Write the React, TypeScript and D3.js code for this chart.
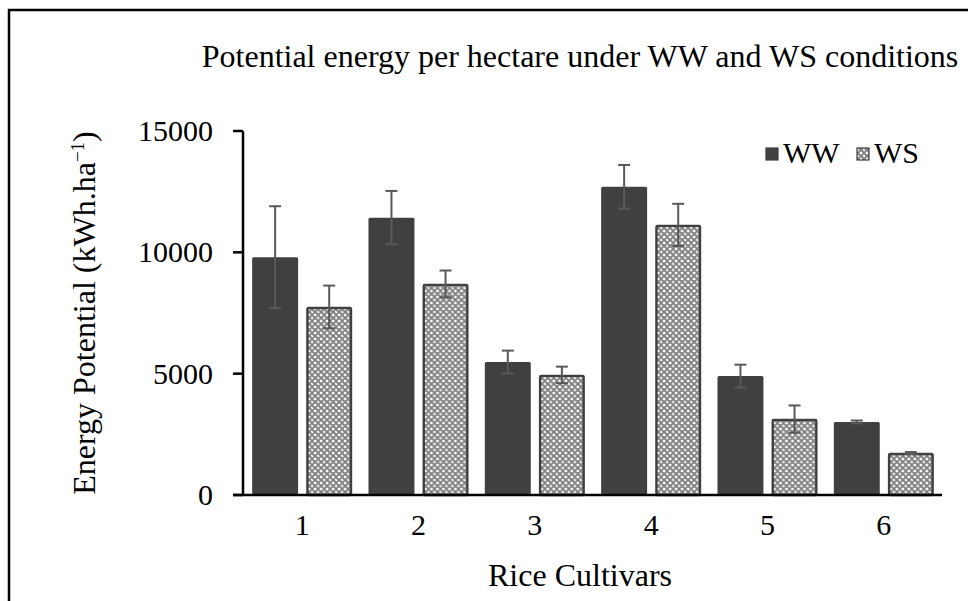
import React from 'react';
import * as d3 from 'd3';

const cultivars = ['1', '2', '3', '4', '5', '6'];
const seriesNames = ['WW', 'WS'];
const wwValues = [9800, 11430, 5480, 12700, 4900, 3010];
const wwErrors = [2100, 1100, 470, 900, 470, 60];
const wsValues = [7750, 8700, 4950, 11130, 3130, 1730];
const wsErrors = [880, 550, 340, 870, 560, 40];
const yTicks = [0, 5000, 10000, 15000];

const App = () => {
  const Width = 968;
  const Height = 601;
  const font = "'Liberation Serif', 'Times New Roman', serif";

  const x0 = d3.scaleBand().domain(cultivars).range([244, 942]).paddingInner(0.14).paddingOuter(0.07);
  const x1 = d3.scaleBand().domain(seriesNames).range([0, x0.bandwidth()]).paddingInner(0.15);
  const yScale = d3.scaleLinear().domain([0, 15000]).range([495, 131]);

  const rows = cultivars.map((c, i) => ({
    name: c,
    values: [
      { key: 'WW', v: wwValues[i], e: wwErrors[i] },
      { key: 'WS', v: wsValues[i], e: wsErrors[i] },
    ],
  }));

  const bars = rows.map((d) => (
    <g key={d.name} transform={`translate(${x0(d.name)},0)`}>
      {d.values.map((s) => {
        const bx = x1(s.key) as number;
        const bw = x1.bandwidth();
        const top = yScale(s.v);
        const cx = bx + bw / 2;
        return (
          <g key={s.key}>
            {s.key === 'WW' ? (
              <rect x={bx} y={top} width={bw} height={yScale(0) - top} fill="#404040" rx={1.5} />
            ) : (
              <rect x={bx + 1.2} y={top + 1} width={bw - 2.4} height={yScale(0) - top - 1} fill="url(#wsPattern)" stroke="#404040" strokeWidth={2.4} rx={1} />
            )}
            <line x1={cx} x2={cx} y1={yScale(s.v + s.e)} y2={yScale(s.v - s.e)} stroke="#595959" strokeWidth={2} />
            <line x1={cx - 6} x2={cx + 6} y1={yScale(s.v + s.e)} y2={yScale(s.v + s.e)} stroke="#595959" strokeWidth={2} />
            <line x1={cx - 6} x2={cx + 6} y1={yScale(s.v - s.e)} y2={yScale(s.v - s.e)} stroke="#595959" strokeWidth={2} />
          </g>
        );
      })}
    </g>
  ));

  const legend = [
    { label: 'WW', x: 766, fill: '#404040' },
    { label: 'WS', x: 857, fill: 'url(#wsPattern)' },
  ].map((d) => (
    <g key={d.label}>
      <rect x={d.x} y={148} width={12} height={12} fill={d.fill} stroke="#404040" strokeWidth={1.2} />
      <text x={d.x + 17} y={163} style={{ fontSize: '30px', fontFamily: font }}>{d.label}</text>
    </g>
  ));

  return (
    <svg width={Width} height={Height} style={{ position: 'absolute', left: 0, top: 0, background: '#fff' }}>
      <defs>
        <pattern id="wsPattern" width={6} height={6} patternUnits="userSpaceOnUse">
          <rect width={6} height={6} fill="#c4c4c4" />
          <path d="M0,3 L3,0 L6,3 L3,6 Z" fill="none" stroke="#7a7a7a" strokeWidth={1.3} />
          <rect x={2} y={2} width={2} height={2} fill="#ffffff" />
          <rect x={0} y={0} width={1} height={1} fill="#ffffff" />
          <rect x={5} y={5} width={1} height={1} fill="#ffffff" />
        </pattern>
      </defs>
      <rect x={9} y={10} width={980} height={620} fill="none" stroke="#000" strokeWidth={2.5} />

      <text x={580} y={67} textAnchor="middle" style={{ fontSize: '32px', fontFamily: font }}>
        Potential energy per hectare under WW and WS conditions
      </text>

      {yTicks.map((t) => (
        <g key={t}>
          <line x1={233} x2={243} y1={yScale(t)} y2={yScale(t)} stroke="#000" strokeWidth={2.5} />
          <text x={213} y={yScale(t) + 10} textAnchor="end" style={{ fontSize: '30px', fontFamily: font }}>{t}</text>
        </g>
      ))}

      <g>{bars}</g>

      <line x1={243} x2={243} y1={131} y2={496} stroke="#000" strokeWidth={2.5} />
      <line x1={233} x2={942} y1={495} y2={495} stroke="#000" strokeWidth={2.5} />

      {cultivars.map((c) => (
        <text key={c} x={(x0(c) as number) + x0.bandwidth() / 2} y={535} textAnchor="middle" style={{ fontSize: '30px', fontFamily: font }}>{c}</text>
      ))}

      <text x={580} y={586} textAnchor="middle" style={{ fontSize: '32px', fontFamily: font }}>Rice Cultivars</text>
      <text transform="translate(95, 313) rotate(-90)" textAnchor="middle" style={{ fontSize: '32px', fontFamily: font }}>
        Energy Potential (kWh.ha<tspan dy={-11} style={{ fontSize: '19px' }}>−1</tspan><tspan dy={11}>)</tspan>
      </text>

      <g>{legend}</g>
    </svg>
  );
};

export default App;
